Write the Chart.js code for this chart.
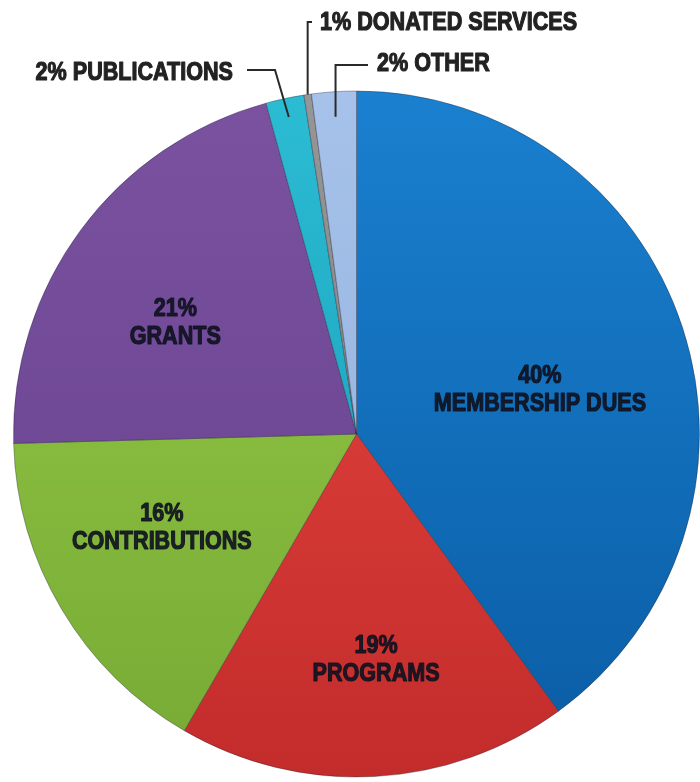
<!DOCTYPE html>
<html lang="en">
<head>
    <meta charset="UTF-8">
    <script src="https://cdn.jsdelivr.net/npm/chart.js"></script>
    <style>
        body {
            margin: 0;
            padding: 0;
            background-color: #fff;
        }
        #revenueChart {
            display: block;
        }
    </style>
</head>
<body>
    <canvas id="revenueChart" width="700" height="782"></canvas>
    <script>
        // Revenue sources, clockwise from 12 o'clock
        const categories = ['MEMBERSHIP DUES', 'PROGRAMS', 'CONTRIBUTIONS', 'GRANTS', 'PUBLICATIONS', 'DONATED SERVICES', 'OTHER'];
        const shares = [40, 18.4, 16.2, 21.2, 1.8, 0.35, 2.1];
        const pctLabels = ['40%', '19%', '16%', '21%', '2%', '1%', '2%'];

        // light (top) and dark (bottom) tone of each slice
        const lightColors = ['#1a80cf', '#ec4842', '#98cb48', '#7a52a0', '#2bbcd3', '#969696', '#a6c2ea'];
        const darkColors = ['#0a5ca4', '#c22c2b', '#76aa34', '#653f8d', '#1598b4', '#7a7a7a', '#8eaedb'];

        // where the labels inside the slices go
        const insideRadius = [0.55, 0.66, 0.63, 0.62];
        const insideShift = [4.5, -2, 5, -5];

        // labels for the thin slices, with leader lines
        const outsideLabels = [
            { index: 4, x: 233, y: 73, align: 'right', lineY: 70, startX: 247, elbowX: 275, reach: 0.945 },
            { index: 5, x: 320, y: 23, align: 'left', lineY: 22, startX: 312, elbowX: null, reach: 1.0 },
            { index: 6, x: 377, y: 64, align: 'left', lineY: 65, startX: 368, elbowX: null, reach: 0.927 }
        ];

        const labelFont = "bold 26px 'Liberation Sans', Arial, sans-serif";
        const squeeze = 0.83;

        // condensed heavy text: squeeze horizontally and thicken with a stroke
        const drawText = (ctx, text, x, y, align) => {
            ctx.save();
            ctx.translate(x, y);
            ctx.scale(squeeze, 1);
            ctx.textAlign = align;
            ctx.textBaseline = 'middle';
            ctx.lineWidth = 1.2;
            ctx.lineJoin = 'round';
            ctx.strokeStyle = ctx.fillStyle;
            ctx.strokeText(text, 0, 0);
            ctx.fillText(text, 0, 0);
            ctx.restore();
        };

        const sliceLabels = {
            id: 'sliceLabels',
            afterDatasetsDraw(chart) {
                const ctx = chart.ctx;
                const arcs = chart.getDatasetMeta(0).data;
                ctx.save();
                ctx.font = labelFont;

                // inside labels
                ctx.fillStyle = 'rgba(16, 18, 32, 0.9)';
                insideRadius.forEach((f, i) => {
                    const a = arcs[i].getProps(['x', 'y', 'startAngle', 'endAngle', 'outerRadius'], true);
                    const mid = (a.startAngle + a.endAngle) / 2 + insideShift[i] * Math.PI / 180;
                    const px = a.x + Math.cos(mid) * a.outerRadius * f;
                    const py = a.y + Math.sin(mid) * a.outerRadius * f;
                    drawText(ctx, pctLabels[i], px, py - 14, 'center');
                    drawText(ctx, categories[i], px, py + 14, 'center');
                });

                // outside labels and leader lines
                ctx.fillStyle = '#222222';
                outsideLabels.forEach(l => {
                    const a = arcs[l.index].getProps(['x', 'y', 'startAngle', 'endAngle', 'outerRadius'], true);
                    const mid = (a.startAngle + a.endAngle) / 2;
                    const ex = a.x + Math.cos(mid) * a.outerRadius * l.reach;
                    const ey = a.y + Math.sin(mid) * a.outerRadius * l.reach;
                    const elbowX = l.elbowX === null ? ex : l.elbowX;
                    ctx.strokeStyle = '#2a2a2a';
                    ctx.lineWidth = 2;
                    ctx.beginPath();
                    ctx.moveTo(l.startX, l.lineY);
                    ctx.lineTo(elbowX, l.lineY);
                    ctx.lineTo(ex, ey);
                    ctx.stroke();
                    drawText(ctx, pctLabels[l.index] + ' ' + categories[l.index], l.x, l.y, l.align);
                });
                ctx.restore();
            }
        };

        const canvas = document.getElementById('revenueChart');
        const ctx = canvas.getContext('2d');

        new Chart(ctx, {
            type: 'pie',
            data: {
                labels: categories,
                datasets: [{
                    data: shares,
                    backgroundColor: (c) => {
                        const area = c.chart.chartArea;
                        if (!area) return lightColors[c.dataIndex];
                        const g = c.chart.ctx.createLinearGradient(0, area.top, 0, area.bottom);
                        g.addColorStop(0, lightColors[c.dataIndex]);
                        g.addColorStop(1, darkColors[c.dataIndex]);
                        return g;
                    },
                    borderColor: 'rgba(30, 30, 50, 0.35)',
                    borderWidth: 1
                }]
            },
            options: {
                responsive: false,
                animation: false,
                layout: {
                    padding: { left: 13, right: 0, top: 90, bottom: 4 }
                },
                plugins: {
                    legend: { display: false },
                    tooltip: { enabled: false }
                }
            },
            plugins: [sliceLabels]
        });
    </script>
</body>
</html>
